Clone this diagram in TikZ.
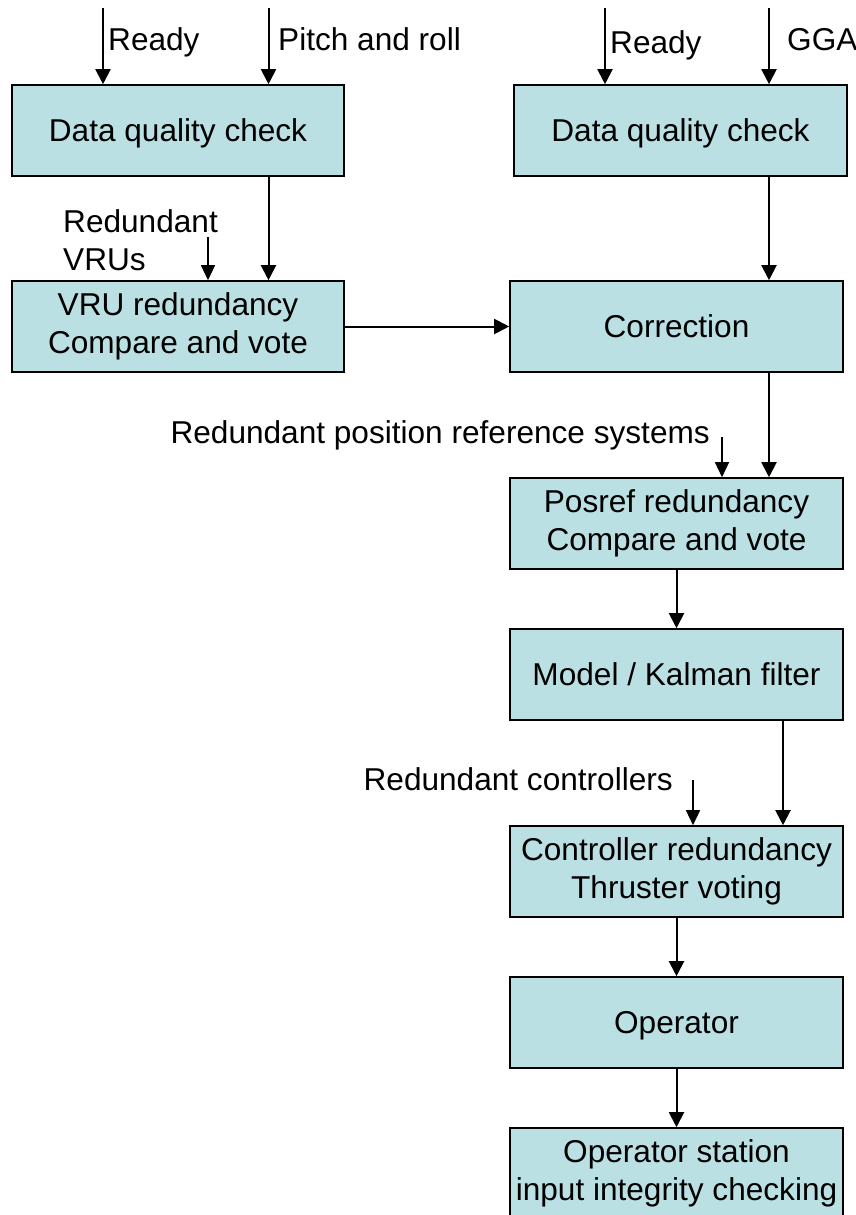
\documentclass[tikz,border=0pt]{standalone}
\usepackage{fontspec}
\setmainfont{Liberation Sans}
\usetikzlibrary{arrows.meta}
\definecolor{boxfill}{RGB}{187,224,227}
\begin{document}
\begin{tikzpicture}[x=1pt,y=-1pt,
  every node/.style={font=\fontsize{31.6pt}{37.6pt}\selectfont},
  % the strut gives every first line the same ascent and descent
  block/.style={draw=black, line width=1.6pt, fill=boxfill,
    minimum width=333pt, minimum height=91pt, inner sep=0pt, align=center,
    execute at begin node={\rule[-6.7pt]{0pt}{35.3pt}}},
  flow/.style={line width=2pt, -{Triangle[length=15pt,width=15pt]}},
  feed/.style={line width=1.4pt, -{Triangle[length=15pt,width=14pt]}},
  lbl/.style={inner sep=0pt}]
\useasboundingbox (0,0) rectangle (855,1215);

% processing blocks
\node[block, minimum width=332pt] (dqcL) at (178,130.5) {Data quality check};
\node[block] (dqcR) at (680.5,130.5) {Data quality check};
\node[block, minimum width=332pt] (vru) at (178,326.5) {VRU redundancy\\Compare and vote};
\node[block] (corr) at (676.5,326.5) {Correction};
\node[block] (posref) at (676.5,523.5) {Posref redundancy\\Compare and vote};
\node[block] (model) at (676.5,674.5) {Model / Kalman filter};
\node[block] (ctrl) at (676.5,871.5) {Controller redundancy\\Thruster voting};
\node[block] (oper) at (676.5,1022.5) {Operator};
\node[block] (station) at (676.5,1173.5) {Operator station\\input integrity checking};

% free ends of the input arrows
\coordinate (readyL) at (103,8);
\coordinate (pitch) at (268.5,8);
\coordinate (readyR) at (605,8);
\coordinate (gga) at (769,8);
\coordinate (vrus) at (208,237);
\coordinate (posin) at (722,437);
\coordinate (ctrlin) at (693,780);
\coordinate (kf) at (783,0);

% input labels
\node[lbl, anchor=base west] (tReadyL) at (108,51) {Ready};
\node[lbl, anchor=base west] (tPitch) at (278,51) {Pitch and roll};
\node[lbl, anchor=base west] (tReadyR) at (610,53) {Ready};
\node[lbl, anchor=base west] (tGga) at (787,51) {GGA};
\node[lbl, anchor=north west, align=left] (tVrus) at (63,209.5) {Redundant\\VRUs};
\node[lbl, anchor=base east] (tPos) at (710,443) {Redundant position reference systems};
\node[lbl, anchor=base east] (tCtrl) at (673,790) {Redundant controllers};

% signal flow
\draw[flow] (readyL) -- (readyL |- dqcL.north);
\draw[flow] (pitch) -- (pitch |- dqcL.north);
\draw[flow] (readyR) -- (readyR |- dqcR.north);
\draw[flow] (gga) -- (gga |- dqcR.north);
\draw[flow] (pitch |- dqcL.south) -- (pitch |- vru.north);
\draw[feed] (vrus) -- (vrus |- vru.north);
\draw[flow] (vru.east) -- (corr.west);
\draw[flow] (gga |- dqcR.south) -- (gga |- corr.north);
\draw[flow] (gga |- corr.south) -- (gga |- posref.north);
\draw[feed] (posin) -- (posin |- posref.north);
\draw[flow] (posref) -- (model);
\draw[flow] (kf |- model.south) -- (kf |- ctrl.north);
\draw[feed] (ctrlin) -- (ctrlin |- ctrl.north);
\draw[flow] (ctrl) -- (oper);
\draw[flow] (oper) -- (station);
\end{tikzpicture}
\end{document}
